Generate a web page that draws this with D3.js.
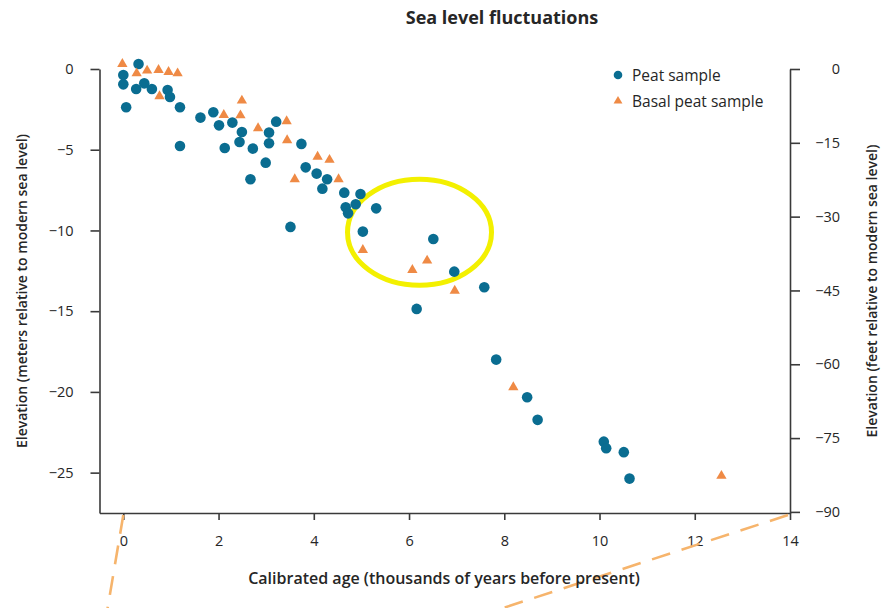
<!DOCTYPE html>
<html>
<head>
<meta charset="utf-8">
<script src="https://cdn.jsdelivr.net/npm/d3@7"></script>
<style>
  html, body { margin: 0; padding: 0; background: #fff; }
  svg { display: block; font-family: "Open Sans", "Noto Sans", sans-serif; }
</style>
</head>
<body>
<svg id="chart" width="883" height="608"></svg>
<script>
// Peat samples: calibrated age (ka BP) and elevation (m relative to modern sea level)
const peatAge = [0.32, 0.00, 0.00, 0.06, 0.27, 0.44, 0.60, 0.93, 0.98, 1.19, 1.19, 1.62, 1.89, 2.01, 2.29, 2.13,
  2.49, 2.44, 2.72, 2.67, 3.06, 3.06, 3.21, 2.99, 3.74, 3.83, 4.06, 4.28, 4.18, 4.64, 4.98, 4.67, 4.88, 4.72,
  5.31, 5.03, 3.51, 6.51, 6.95, 7.58, 6.16, 7.83, 8.48, 8.70, 10.09, 10.14, 10.51, 10.63];
const peatElev = [0.31, -0.37, -0.95, -2.37, -1.24, -0.89, -1.24, -1.30, -1.73, -2.37, -4.77, -3.01, -2.68, -3.49, -3.32, -4.89,
  -3.90, -4.52, -4.93, -6.83, -3.94, -4.60, -3.26, -5.80, -4.64, -6.09, -6.48, -6.83, -7.41, -7.66, -7.74, -8.57, -8.38, -8.94,
  -8.63, -10.07, -9.78, -10.53, -12.55, -13.52, -14.86, -18.0, -20.33, -21.73, -23.08, -23.49, -23.73, -25.37];

// Basal peat samples
const basalAge = [-0.02, 0.28, 0.50, 0.74, 0.95, 1.14, 0.76, 2.49, 2.11, 2.46, 2.83, 3.43, 3.44, 3.60, 4.08, 4.33,
  4.52, 5.03, 6.07, 6.38, 6.96, 8.19, 12.56];
const basalElev = [0.31, -0.27, -0.10, -0.06, -0.19, -0.27, -1.69, -1.96, -2.85, -2.87, -3.67, -3.24, -4.41, -6.83, -5.43, -5.63,
  -6.83, -11.21, -12.45, -11.87, -13.73, -19.71, -25.20];

// Axis ticks
const ageTicks = [0, 2, 4, 6, 8, 10, 12, 14];
const meterTicks = [0, -5, -10, -15, -20, -25];
const feetTicks = [0, -15, -30, -45, -60, -75, -90];

const seriesNames = ["Peat sample", "Basal peat sample"];
const titleText = "Sea level fluctuations";

const M_TO_FT = 3.28084;
const peatColor = "#0a6d91";
const basalColor = "#ef8a45";
const inkColor = "#262626";
const axisColor = "#3a3a3a";

const svg = d3.select("#chart");

const x = d3.scaleLinear().domain([-0.5, 14]).range([99.5, 790]);
const y = d3.scaleLinear().domain([-27.5, 0]).range([513, 69]);
const yFt = d3.scaleLinear().domain([-27.5 * M_TO_FT, 0]).range([513, 69]);

const minus = d => d3.format("")(d).replace("-", "\u2212");

// Bottom axis
const gx = svg.append("g").attr("transform", `translate(0,${y(-27.5)})`)
  .call(d3.axisBottom(x).tickValues(ageTicks).tickSizeInner(7).tickSizeOuter(0).tickPadding(16).tickFormat(d3.format("d")));

// Left axis (meters)
const gy = svg.append("g").attr("transform", `translate(${x(-0.5)},0)`)
  .call(d3.axisLeft(y).tickValues(meterTicks).tickSizeInner(9).tickSizeOuter(0).tickPadding(17).tickFormat(minus));

// Right axis (feet)
const gyr = svg.append("g").attr("transform", `translate(${x(14)},0)`)
  .call(d3.axisRight(yFt).tickValues(feetTicks).tickSizeInner(10).tickSizeOuter(0).tickPadding(0).tickFormat(minus));
gyr.selectAll(".tick text").attr("x", 50).attr("text-anchor", "end");

[gx, gy, gyr].forEach(g => {
  g.select(".domain").attr("stroke", axisColor).attr("stroke-width", 1.6);
  g.selectAll(".tick line").attr("stroke", axisColor).attr("stroke-width", 1.6);
  g.selectAll(".tick text").attr("fill", inkColor).attr("font-size", 14.5)
    .attr("font-family", '"Open Sans", sans-serif');
});

// Callout guides below the age axis
const guide = svg.append("g").attr("fill", "none").attr("stroke", "#f6b46c")
  .attr("stroke-width", 2.6).attr("stroke-dasharray", "19 12");
guide.append("line").attr("x1", x(0)).attr("y1", y(-27.5) + 2).attr("x2", x(0) - 16).attr("y2", 610);
guide.append("line").attr("x1", x(14) - 2).attr("y1", y(-27.5) + 2).attr("x2", x(14) - 293).attr("y2", 610);

// Highlight ring
svg.append("ellipse")
  .attr("cx", x(6.22)).attr("cy", y(-10.11))
  .attr("rx", 72).attr("ry", 53)
  .attr("fill", "none").attr("stroke", "#f3f000").attr("stroke-width", 5);

// Sample points
const peat = peatAge.map((a, i) => ({ age: a, elev: peatElev[i] }));
const basal = basalAge.map((a, i) => ({ age: a, elev: basalElev[i] }));

svg.append("g").selectAll("circle").data(peat).join("circle")
  .attr("cx", d => x(d.age)).attr("cy", d => y(d.elev))
  .attr("r", 5.3).attr("fill", peatColor);

const tri = d3.symbol().type(d3.symbolTriangle).size(46);
svg.append("g").selectAll("path").data(basal).join("path")
  .attr("d", tri)
  .attr("transform", d => `translate(${x(d.age)},${y(d.elev)})`)
  .attr("fill", basalColor);

// Legend
const legend = svg.append("g").attr("transform", "translate(618,75)");
legend.append("circle").attr("cx", 0).attr("cy", 0).attr("r", 4.3).attr("fill", peatColor);
legend.append("path").attr("d", d3.symbol().type(d3.symbolTriangle).size(34)())
  .attr("transform", "translate(0,26)").attr("fill", basalColor);
legend.selectAll("text").data(seriesNames).join("text")
  .attr("x", 14).attr("y", (d, i) => i * 26 + 5.5)
  .attr("font-size", 15.5).attr("fill", inkColor)
  .text(d => d);

// Title
svg.append("text").attr("x", 502).attr("y", 24).attr("text-anchor", "middle")
  .attr("font-size", 18).attr("font-weight", 700).attr("fill", inkColor)
  .text(titleText);

// Axis titles
svg.append("text").attr("x", 444).attr("y", 584).attr("text-anchor", "middle")
  .attr("font-size", 16).attr("font-weight", 600).attr("fill", inkColor)
  .text("Calibrated age (thousands of years before present)");

svg.append("text").attr("transform", "translate(27,291) rotate(-90)").attr("text-anchor", "middle")
  .attr("font-size", 14).attr("font-weight", 600).attr("fill", inkColor)
  .text("Elevation (meters relative to modern sea level)");

svg.append("text").attr("transform", "translate(877,291) rotate(-90)").attr("text-anchor", "middle")
  .attr("font-size", 14).attr("font-weight", 600).attr("fill", inkColor)
  .text("Elevation (feet relative to modern sea level)");
</script>
</body>
</html>
